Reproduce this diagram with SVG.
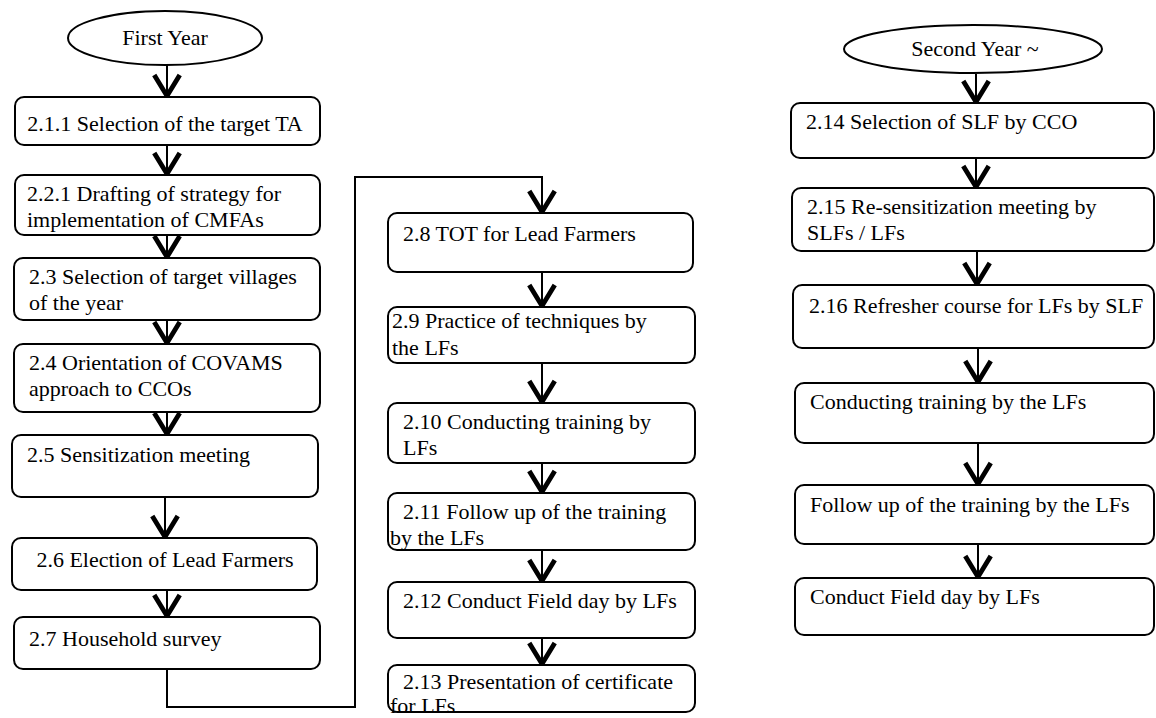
<svg xmlns="http://www.w3.org/2000/svg" width="1156" height="718" viewBox="0 0 1156 718">
  <defs>
    <marker id="chev" markerUnits="userSpaceOnUse" markerWidth="30" markerHeight="30" refX="0" refY="0" orient="auto" viewBox="-16 -10 20 20" overflow="visible">
      <path d="M-14,-8.5 L0,0 L-14,8.5" fill="none" stroke="#000" stroke-width="3.2" stroke-linejoin="miter"/>
    </marker>
  </defs>
  <style>
    .box { fill: #fff; stroke: #000; stroke-width: 2; }
    .oval { fill: #fff; stroke: #000; stroke-width: 2; }
    .t { font-family: "Liberation Serif", "Times New Roman", serif; font-size: 22px; fill: #000; }
    .c { text-anchor: middle; }
    .link { fill: none; stroke: #000; stroke-width: 2; marker-end: url(#chev); }
  </style>
  <rect width="1156" height="718" fill="#fff"/>

  <g id="connectors">
    <!-- first year column -->
    <path class="link" d="M167,65 V96"/>
    <path class="link" d="M167,145 V174"/>
    <path class="link" d="M167,235 V257"/>
    <path class="link" d="M167,320 V343"/>
    <path class="link" d="M167,412 V434"/>
    <path class="link" d="M165,497 V537"/>
    <path class="link" d="M167,590 V616"/>
    <!-- jump from household survey to the TOT column -->
    <path class="link" d="M167,669 V707 H355 V177 H542 V212"/>
    <path class="link" d="M542,272 V306"/>
    <path class="link" d="M542,363 V402"/>
    <path class="link" d="M542,463 V492"/>
    <path class="link" d="M542,550 V581"/>
    <path class="link" d="M542,638 V664"/>
    <!-- second year column -->
    <path class="link" d="M976,74 V102"/>
    <path class="link" d="M976,158 V187"/>
    <path class="link" d="M977,251 V284"/>
    <path class="link" d="M978,348 V382"/>
    <path class="link" d="M978,443 V484"/>
    <path class="link" d="M978,544 V577"/>
  </g>

  <g id="first-year">
    <ellipse class="oval" cx="165" cy="38" rx="97" ry="27"/>
    <text class="t c" x="165" y="45">First Year</text>
  </g>
  <g id="n211">
    <rect class="box" x="15" y="97" width="305" height="48" rx="9"/>
    <text class="t c" x="165" y="131">2.1.1 Selection of the target TA</text>
  </g>
  <g id="n221">
    <rect class="box" x="15" y="175" width="305" height="60" rx="9"/>
    <text class="t" x="27" y="201">2.2.1 Drafting of strategy for</text>
    <text class="t" x="27" y="227">implementation of CMFAs</text>
  </g>
  <g id="n23">
    <rect class="box" x="14" y="258" width="306" height="62" rx="9"/>
    <text class="t" x="29" y="284">2.3 Selection of target villages</text>
    <text class="t" x="29" y="310">of the year</text>
  </g>
  <g id="n24">
    <rect class="box" x="14" y="344" width="306" height="68" rx="9"/>
    <text class="t" x="29" y="370">2.4 Orientation of COVAMS</text>
    <text class="t" x="29" y="396">approach to CCOs</text>
  </g>
  <g id="n25">
    <rect class="box" x="12" y="435" width="306" height="62" rx="9"/>
    <text class="t" x="27" y="462">2.5 Sensitization meeting</text>
  </g>
  <g id="n26">
    <rect class="box" x="12" y="538" width="305" height="52" rx="9"/>
    <text class="t c" x="165" y="567">2.6 Election of Lead Farmers</text>
  </g>
  <g id="n27">
    <rect class="box" x="14" y="617" width="306" height="52" rx="9"/>
    <text class="t" x="29" y="646">2.7 Household survey</text>
  </g>

  <g id="n28">
    <rect class="box" x="388" y="213" width="305" height="59" rx="9"/>
    <text class="t" x="403" y="241">2.8 TOT for Lead Farmers</text>
  </g>
  <g id="n29">
    <rect class="box" x="388" y="307" width="307" height="56" rx="9"/>
    <text class="t" x="392" y="328">2.9 Practice of techniques by</text>
    <text class="t" x="392" y="355">the LFs</text>
  </g>
  <g id="n210">
    <rect class="box" x="388" y="403" width="307" height="60" rx="9"/>
    <text class="t" x="403" y="429">2.10 Conducting training by</text>
    <text class="t" x="403" y="455">LFs</text>
  </g>
  <g id="n211b">
    <rect class="box" x="388" y="493" width="307" height="57" rx="9"/>
    <text class="t" x="403" y="519">2.11 Follow up of the training</text>
    <text class="t" x="390" y="545">by the LFs</text>
  </g>
  <g id="n212">
    <rect class="box" x="388" y="582" width="307" height="56" rx="9"/>
    <text class="t" x="403" y="608">2.12 Conduct Field day by LFs</text>
  </g>
  <g id="n213">
    <rect class="box" x="388" y="665" width="307" height="47" rx="9"/>
    <text class="t" x="403" y="689">2.13 Presentation of certificate</text>
    <text class="t" x="390" y="713">for LFs</text>
  </g>

  <g id="second-year">
    <ellipse class="oval" cx="973" cy="49" rx="129" ry="24"/>
    <text class="t c" x="975" y="56">Second Year ~</text>
  </g>
  <g id="n214">
    <rect class="box" x="791" y="103" width="363" height="55" rx="9"/>
    <text class="t" x="806" y="129">2.14 Selection of SLF by CCO</text>
  </g>
  <g id="n215">
    <rect class="box" x="792" y="188" width="362" height="63" rx="9"/>
    <text class="t" x="807" y="214">2.15 Re-sensitization meeting by</text>
    <text class="t" x="807" y="240">SLFs / LFs</text>
  </g>
  <g id="n216">
    <rect class="box" x="793" y="285" width="361" height="63" rx="9"/>
    <text class="t" x="809" y="313">2.16 Refresher course for LFs by SLF</text>
  </g>
  <g id="n-conducting">
    <rect class="box" x="795" y="383" width="359" height="60" rx="9"/>
    <text class="t" x="810" y="409">Conducting training by the LFs</text>
  </g>
  <g id="n-followup">
    <rect class="box" x="795" y="485" width="359" height="59" rx="9"/>
    <text class="t" x="810" y="512">Follow up of the training by the LFs</text>
  </g>
  <g id="n-fieldday">
    <rect class="box" x="795" y="578" width="359" height="57" rx="9"/>
    <text class="t" x="810" y="604">Conduct Field day by LFs</text>
  </g>
</svg>
